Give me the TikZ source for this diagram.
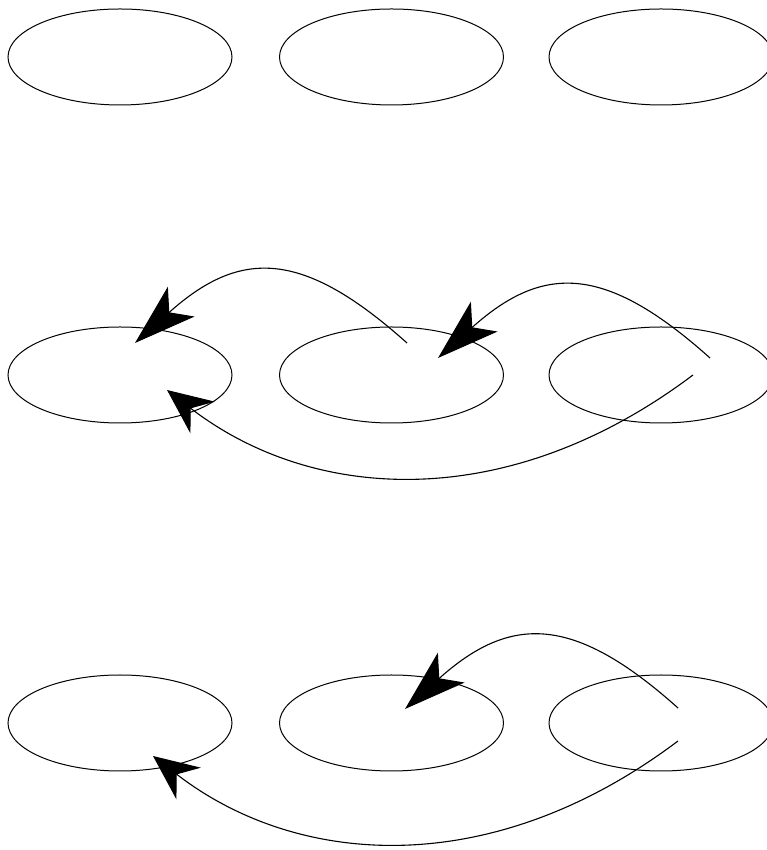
\documentclass[tikz,border=0pt]{standalone}
\usetikzlibrary{shapes.geometric,arrows.meta}
\begin{document}
\begin{tikzpicture}[x=1pt,y=1pt,
  blob/.style={draw,ellipse,minimum width=224pt,minimum height=96pt,inner sep=0pt,line width=1pt},
  link/.style={line width=1.1pt,-{Stealth[length=62pt,width=40pt,inset=16pt]}},
  lowlink/.style={line width=1.1pt,-{Stealth[length=45pt,width=40pt,inset=15pt]}}]
\useasboundingbox (0,0) rectangle (767,850);
\clip (0,0) rectangle (767,850);

% three rows of ellipses
\foreach \r/\y in {1/793,2/475,3/127}{
  \node[blob] (L\r) at (120,\y) {};
  \node[blob] (M\r) at (391.5,\y) {};
  \node[blob] (R\r) at (661,\y) {};
}

% connector end points inside the ellipses
\coordinate (a0) at ([shift={(15.5,32)}]M2.center);
\coordinate (a1) at ([shift={(15,32)}]L2.center);
\coordinate (b0) at ([shift={(49,17)}]R2.center);
\coordinate (b1) at ([shift={(46.5,17)}]M2.center);
\coordinate (c0) at ([shift={(32,0)}]R2.center);
\coordinate (c1) at ([shift={(47,-15)}]L2.center);
\coordinate (d0) at ([shift={(17,15)}]R3.center);
\coordinate (d1) at ([shift={(13.5,14)}]M3.center);
\coordinate (e0) at ([shift={(17,-18)}]R3.center);
\coordinate (e1) at ([shift={(33,-33)}]L3.center);

% middle row
\draw[link] (a0) .. controls +(-105,94) and +(105,94) .. (a1);
\draw[link] (b0) .. controls +(-105,94) and +(105,94) .. (b1);
\draw[lowlink] (c0) .. controls +(-186,-140) and +(145,-112) .. (c1);

% bottom row
\draw[link] (d0) .. controls +(-105,94) and +(105,94) .. (d1);
\draw[lowlink] (e0) .. controls +(-186,-140) and +(145,-112) .. (e1);
\end{tikzpicture}
\end{document}
